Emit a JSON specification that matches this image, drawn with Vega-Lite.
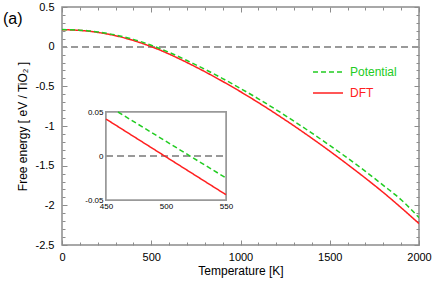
{
  "$schema": "https://vega.github.io/schema/vega-lite/v6.json",
  "width": 357,
  "height": 238,
  "autosize": "none",
  "padding": {"left": 62, "top": 7, "right": 17, "bottom": 36},
  "background": "white",
  "config": {
    "font": "Liberation Sans",
    "view": {"stroke": "#8c8c8c", "strokeWidth": 1.5},
    "axis": {
      "grid": false,
      "domain": false,
      "tickColor": "#8c8c8c",
      "tickWidth": 1,
      "labelFont": "Liberation Sans",
      "labelFontSize": 11,
      "labelColor": "#000000",
      "labelFlush": false,
      "labelOverlap": false,
      "titleFont": "Liberation Sans",
      "titleFontSize": 12,
      "titleFontWeight": "normal",
      "titleColor": "#000000"
    }
  },
  "title": {
    "text": "(a)",
    "anchor": "start",
    "frame": "group",
    "orient": "top",
    "offset": 0,
    "dx": -59,
    "dy": 39,
    "baseline": "alphabetic",
    "fontSize": 16,
    "fontWeight": "normal",
    "font": "Liberation Sans",
    "color": "#000000"
  },
  "datasets": {
    "main": [
      {"T": 0, "F": 0.213, "series": "DFT"},
      {"T": 50, "F": 0.211, "series": "DFT"},
      {"T": 100, "F": 0.205, "series": "DFT"},
      {"T": 150, "F": 0.195, "series": "DFT"},
      {"T": 200, "F": 0.180, "series": "DFT"},
      {"T": 250, "F": 0.161, "series": "DFT"},
      {"T": 300, "F": 0.138, "series": "DFT"},
      {"T": 350, "F": 0.110, "series": "DFT"},
      {"T": 400, "F": 0.078, "series": "DFT"},
      {"T": 450, "F": 0.041, "series": "DFT"},
      {"T": 500, "F": 0.000, "series": "DFT"},
      {"T": 550, "F": -0.044, "series": "DFT"},
      {"T": 600, "F": -0.093, "series": "DFT"},
      {"T": 700, "F": -0.200, "series": "DFT"},
      {"T": 800, "F": -0.315, "series": "DFT"},
      {"T": 900, "F": -0.438, "series": "DFT"},
      {"T": 1000, "F": -0.568, "series": "DFT"},
      {"T": 1100, "F": -0.705, "series": "DFT"},
      {"T": 1200, "F": -0.849, "series": "DFT"},
      {"T": 1300, "F": -0.999, "series": "DFT"},
      {"T": 1400, "F": -1.155, "series": "DFT"},
      {"T": 1500, "F": -1.317, "series": "DFT"},
      {"T": 1600, "F": -1.485, "series": "DFT"},
      {"T": 1700, "F": -1.658, "series": "DFT"},
      {"T": 1800, "F": -1.838, "series": "DFT"},
      {"T": 1900, "F": -2.030, "series": "DFT"},
      {"T": 2000, "F": -2.230, "series": "DFT"},
      {"T": 0, "F": 0.215, "series": "Potential"},
      {"T": 50, "F": 0.213, "series": "Potential"},
      {"T": 100, "F": 0.208, "series": "Potential"},
      {"T": 150, "F": 0.199, "series": "Potential"},
      {"T": 200, "F": 0.186, "series": "Potential"},
      {"T": 250, "F": 0.168, "series": "Potential"},
      {"T": 300, "F": 0.147, "series": "Potential"},
      {"T": 350, "F": 0.121, "series": "Potential"},
      {"T": 400, "F": 0.092, "series": "Potential"},
      {"T": 450, "F": 0.057, "series": "Potential"},
      {"T": 500, "F": 0.0175, "series": "Potential"},
      {"T": 550, "F": -0.026, "series": "Potential"},
      {"T": 600, "F": -0.072, "series": "Potential"},
      {"T": 700, "F": -0.175, "series": "Potential"},
      {"T": 800, "F": -0.285, "series": "Potential"},
      {"T": 900, "F": -0.402, "series": "Potential"},
      {"T": 1000, "F": -0.527, "series": "Potential"},
      {"T": 1100, "F": -0.657, "series": "Potential"},
      {"T": 1200, "F": -0.795, "series": "Potential"},
      {"T": 1300, "F": -0.940, "series": "Potential"},
      {"T": 1400, "F": -1.090, "series": "Potential"},
      {"T": 1500, "F": -1.245, "series": "Potential"},
      {"T": 1600, "F": -1.405, "series": "Potential"},
      {"T": 1700, "F": -1.572, "series": "Potential"},
      {"T": 1800, "F": -1.748, "series": "Potential"},
      {"T": 1900, "F": -1.930, "series": "Potential"},
      {"T": 2000, "F": -2.155, "series": "Potential"}
    ],
    "inset": [
      {"T": 450, "F": 0.042, "series": "DFT"},
      {"T": 550, "F": -0.044, "series": "DFT"},
      {"T": 460, "F": 0.050, "series": "Potential"},
      {"T": 550, "F": -0.025, "series": "Potential"}
    ]
  },
  "data": {"name": "main"},
  "layer": [
    {
      "layer": [
        {
          "mark": {"type": "rule", "color": "#999999", "strokeWidth": 1.5, "strokeDash": [7, 4]},
          "encoding": {
            "y": {"datum": 0, "type": "quantitative", "scale": {"domain": [-2.5, 0.5], "nice": false, "zero": false}, "axis": null}
          }
        },
        {
          "mark": {"type": "line", "strokeWidth": 1.5, "interpolate": "monotone", "clip": true},
          "encoding": {
            "x": {"field": "T", "type": "quantitative",
              "scale": {"domain": [0, 2000], "nice": false, "zero": false},
              "axis": {"orient": "bottom", "values": [0, 500, 1000, 1500, 2000], "tickSize": -5, "labelPadding": 11,
                "labelExpr": "datum.value + ''", "title": "Temperature [K]", "titlePadding": 3}},
            "y": {"field": "F", "type": "quantitative",
              "scale": {"domain": [-2.5, 0.5], "nice": false, "zero": false},
              "axis": {"orient": "left", "values": [-2.5, -2, -1.5, -1, -0.5, 0, 0.5], "tickSize": -5, "labelPadding": 13,
                "labelExpr": "datum.value + ''", "title": "Free energy [ eV / TiO₂ ]", "titlePadding": 6}},
            "color": {"field": "series", "type": "nominal",
              "scale": {"domain": ["Potential", "DFT"], "range": ["#22cc22", "#ff2020"]},
              "legend": {"orient": "none", "legendX": 250, "legendY": 58, "title": null, "padding": 0,
                "symbolType": "stroke", "symbolSize": 900, "symbolStrokeWidth": 1.5,
                "labelFont": "Liberation Sans", "labelFontSize": 12, "labelOffset": 6,
                "clipHeight": 14, "rowPadding": 7,
                "labelColor": {"expr": "datum.label == 'DFT' ? '#ff2020' : '#22cc22'"}}},
            "strokeDash": {"field": "series", "type": "nominal",
              "scale": {"domain": ["Potential", "DFT"], "range": [[5, 3], [1, 0]]}}
          }
        },
        {
          "mark": {"type": "point", "opacity": 0},
          "encoding": {
            "x": {"field": "T", "type": "quantitative", "scale": {"domain": [0, 2000], "nice": false, "zero": false},
              "axis": {"orient": "bottom", "values": [100, 200, 300, 400, 600, 700, 800, 900, 1100, 1200, 1300, 1400, 1600, 1700, 1800, 1900], "tickSize": -3, "labels": false, "title": null}},
            "y": {"field": "F", "type": "quantitative", "scale": {"domain": [-2.5, 0.5], "nice": false, "zero": false},
              "axis": {"orient": "left", "values": [-2.4, -2.3, -2.2, -2.1, -1.9, -1.8, -1.7, -1.6, -1.4, -1.3, -1.2, -1.1, -0.9, -0.8, -0.7, -0.6, -0.4, -0.3, -0.2, -0.1, 0.1, 0.2, 0.3, 0.4], "tickSize": -3, "labels": false, "title": null}}
          }
        },
        {
          "mark": {"type": "point", "opacity": 0},
          "encoding": {
            "x": {"field": "T", "type": "quantitative", "scale": {"domain": [0, 2000], "nice": false, "zero": false},
              "axis": {"orient": "top", "values": [0, 500, 1000, 1500, 2000], "tickSize": -5, "labels": false, "title": null}},
            "y": {"field": "F", "type": "quantitative", "scale": {"domain": [-2.5, 0.5], "nice": false, "zero": false},
              "axis": {"orient": "right", "values": [-2.5, -2, -1.5, -1, -0.5, 0, 0.5], "tickSize": -5, "labels": false, "title": null}}
          }
        },
        {
          "mark": {"type": "point", "opacity": 0},
          "encoding": {
            "x": {"field": "T", "type": "quantitative", "scale": {"domain": [0, 2000], "nice": false, "zero": false},
              "axis": {"orient": "top", "values": [100, 200, 300, 400, 600, 700, 800, 900, 1100, 1200, 1300, 1400, 1600, 1700, 1800, 1900], "tickSize": -3, "labels": false, "title": null}},
            "y": {"field": "F", "type": "quantitative", "scale": {"domain": [-2.5, 0.5], "nice": false, "zero": false},
              "axis": {"orient": "right", "values": [-2.4, -2.3, -2.2, -2.1, -1.9, -1.8, -1.7, -1.6, -1.4, -1.3, -1.2, -1.1, -0.9, -0.8, -0.7, -0.6, -0.4, -0.3, -0.2, -0.1, 0.1, 0.2, 0.3, 0.4], "tickSize": -3, "labels": false, "title": null}}
          }
        }
      ],
      "resolve": {"axis": {"x": "independent", "y": "independent"}}
    },
    {
      "layer": [
        {
          "mark": {"type": "rect", "fill": "white", "stroke": "#999999", "strokeWidth": 1.5},
          "encoding": {
            "x": {"datum": 450, "type": "quantitative",
              "scale": {"domain": [450, 550], "range": [44, 164], "nice": false, "zero": false},
              "axis": {"orient": "bottom", "offset": -45, "values": [450, 500, 550], "tickSize": -4, "labelPadding": 6,
                "labelFontSize": 8, "labelExpr": "datum.value + ''", "title": null}},
            "x2": {"datum": 550},
            "y": {"datum": -0.05, "type": "quantitative",
              "scale": {"domain": [-0.05, 0.05], "range": [193, 105], "nice": false, "zero": false},
              "axis": {"orient": "left", "offset": -44, "values": [-0.05, 0, 0.05], "tickSize": -4, "labelPadding": 7,
                "labelFontSize": 8, "labelExpr": "datum.value + ''", "title": null}},
            "y2": {"datum": 0.05}
          }
        },
        {
          "mark": {"type": "rule", "color": "#999999", "strokeWidth": 1.5, "strokeDash": [7, 4]},
          "encoding": {
            "x": {"datum": 450, "type": "quantitative",
              "scale": {"domain": [450, 550], "range": [44, 164], "nice": false, "zero": false},
              "axis": {"orient": "top", "offset": -105, "values": [500], "tickSize": -4, "labels": false, "title": null}},
            "x2": {"datum": 550},
            "y": {"datum": 0, "type": "quantitative",
              "scale": {"domain": [-0.05, 0.05], "range": [193, 105], "nice": false, "zero": false},
              "axis": {"orient": "right", "offset": -193, "values": [0], "tickSize": -4, "labels": false, "title": null}}
          }
        },
        {
          "data": {"name": "inset"},
          "mark": {"type": "line", "strokeWidth": 1.5},
          "encoding": {
            "x": {"field": "T", "type": "quantitative",
              "scale": {"domain": [450, 550], "range": [44, 164], "nice": false, "zero": false}, "axis": null},
            "y": {"field": "F", "type": "quantitative",
              "scale": {"domain": [-0.05, 0.05], "range": [193, 105], "nice": false, "zero": false}, "axis": null},
            "color": {"field": "series", "type": "nominal"},
            "strokeDash": {"field": "series", "type": "nominal"}
          }
        }
      ],
      "resolve": {"axis": {"x": "independent", "y": "independent"}}
    }
  ],
  "resolve": {
    "scale": {"x": "independent", "y": "independent"},
    "axis": {"x": "independent", "y": "independent"}
  }
}
